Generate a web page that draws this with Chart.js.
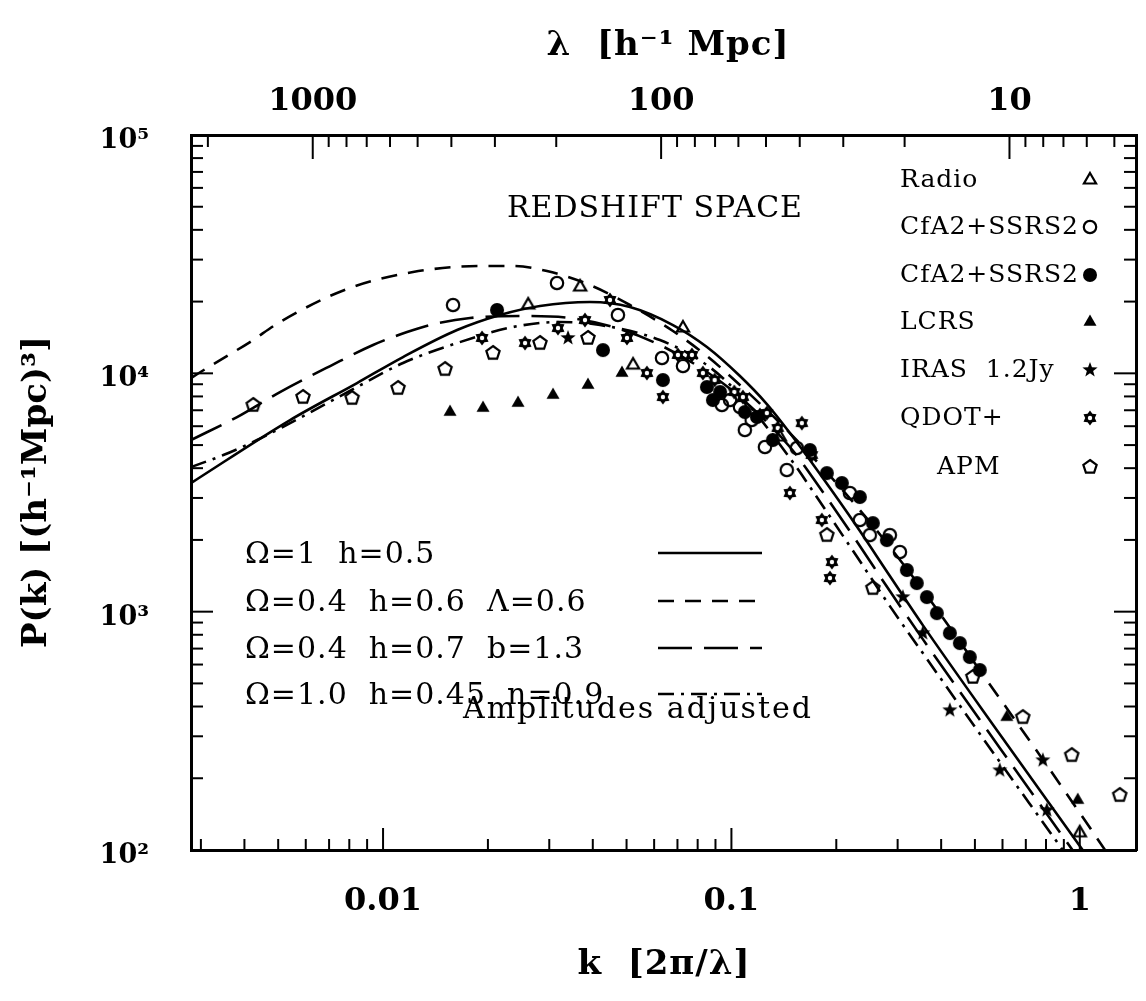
<!DOCTYPE html>
<html>
<head>
<meta charset="utf-8">
<title>P(k) in redshift space</title>
<script src="https://cdn.jsdelivr.net/npm/chart.js@4.4.1/dist/chart.umd.min.js"></script>
<style>
  html, body { margin: 0; padding: 0; background: #fff; }
  canvas { display: block; }
</style>
</head>
<body>
<canvas id="pkChart" width="1146" height="1001"></canvas>
<script>
// axis ranges and labelled ticks
const kMin = 0.00281, kMax = 1.45;
const pMin = 100, pMax = 100000;
const kTicks = [0.01, 0.1, 1];
const lambdaTicks = [1000, 100, 10];
const pTicks = [100, 1000, 10000, 100000];

// model power spectra
const modelNames = ['Ω=1  h=0.5', 'Ω=0.4  h=0.6  Λ=0.6', 'Ω=0.4  h=0.7  b=1.3', 'Ω=1.0  h=0.45  n=0.9'];

const kOmega1 = [0.00281, 0.00541, 0.00842, 0.01141, 0.01631, 0.02167, 0.02821, 0.03926, 0.05113, 0.06795, 0.08506, 0.1058, 0.1264, 0.1472, 0.183, 0.2276, 0.285, 0.3543, 0.5894, 1.0, 1.302];
const pOmega1 = [3465, 6368, 9107, 11706, 15195, 17570, 19160, 19925, 18976, 15947, 12898, 9743, 7432, 5617, 3636, 2309, 1411, 878, 306, 104, 60];

const kLambda = [0.00281, 0.00319, 0.00415, 0.00506, 0.00788, 0.01219, 0.01898, 0.0236, 0.02955, 0.03926, 0.05113, 0.06795, 0.08506, 0.1058, 0.1472, 0.2337, 0.3543, 0.5409, 0.7677, 1.09, 1.302];
const pLambda = [9556, 10730, 13530, 16420, 22590, 26610, 28200, 28200, 26870, 23470, 19350, 15050, 11820, 8930, 5617, 2669, 1232, 516, 250, 119, 81];

const kBias = [0.00281, 0.00381, 0.00506, 0.00705, 0.00936, 0.01172, 0.01364, 0.01777, 0.02472, 0.03441, 0.04571, 0.06234, 0.08506, 0.1058, 0.1472, 0.183, 0.2276, 0.285, 0.3543, 0.5894, 0.9178, 1.141];
const pBias = [5251, 6555, 8346, 10730, 13150, 14910, 15950, 17070, 17400, 17070, 15640, 13150, 10130, 7954, 4907, 3177, 1997, 1220, 767, 268, 108, 69];

const kTilt = [0.00281, 0.00348, 0.00435, 0.00541, 0.00842, 0.01141, 0.01631, 0.0236, 0.0322, 0.04195, 0.06234, 0.08506, 0.1058, 0.1472, 0.183, 0.2276, 0.285, 0.3543, 0.5894, 0.8762, 1.068];
const pTilt = [4045, 4540, 5251, 6185, 8760, 11050, 13400, 15640, 16420, 15950, 13790, 10830, 8110, 4412, 2774, 1728, 1055, 670, 234, 104, 69];

// survey measurements
const surveyNames = ['Radio', 'CfA2+SSRS2', 'CfA2+SSRS2', 'LCRS', 'IRAS  1.2Jy', 'QDOT+', 'APM'];

const kRadio = [0.0261, 0.0368, 0.0522, 0.0726, 0.1377, 1.0];
const pRadio = [19350, 23020, 10830, 15490, 5404, 118];

const kCfaOpen = [0.01588, 0.03157, 0.04723, 0.06318, 0.07259, 0.09391, 0.0991, 0.1058, 0.1093, 0.1143, 0.1248, 0.1442, 0.1541, 0.2188, 0.2337, 0.2496, 0.285, 0.3045];
const pCfaOpen = [19350, 23930, 17570, 11590, 10730, 7362, 7727, 7222, 5781, 6368, 4907, 3929, 4860, 3146, 2423, 2096, 2096, 1779];

const kCfaFilled = [0.02124, 0.04279, 0.06358, 0.08505, 0.0885, 0.0928, 0.1093, 0.1184, 0.1315, 0.168, 0.1879, 0.2075, 0.2337, 0.2547, 0.2794, 0.3189, 0.3405, 0.3639, 0.3888, 0.4236, 0.4525, 0.4834, 0.5164];
const pCfaFilled = [18440, 12520, 9374, 8760, 7727, 8346, 6880, 6555, 5251, 4766, 3815, 3465, 3026, 2353, 1997, 1495, 1318, 1151, 986, 813, 738, 645, 569];

const kLcrs = [0.01557, 0.01936, 0.0244, 0.03075, 0.03875, 0.0485, 0.6172, 0.987];
const pLcrs = [6880, 7152, 7506, 8110, 8930, 10030, 361, 162];

const kIras = [0.03396, 0.3105, 0.3543, 0.4236, 0.5894, 0.7832, 0.8042];
const pIras = [14070, 1151, 813, 386, 216, 238, 147];

const kQdot = [0.01924, 0.02556, 0.03177, 0.03799, 0.04481, 0.05014, 0.05721, 0.06358, 0.07022, 0.07703, 0.08283, 0.0895, 0.1019, 0.1079, 0.1207, 0.1264, 0.1358, 0.1472, 0.1593, 0.1701, 0.1818, 0.1918, 0.1943];
const pQdot = [14070, 13400, 15490, 16740, 20310, 14070, 10030, 7954, 11940, 11940, 10030, 9374, 8346, 7954, 6683, 6814, 5895, 3146, 6185, 4542, 2423, 1384, 1615];

const kApm = [0.00424, 0.00589, 0.00815, 0.01104, 0.01506, 0.02068, 0.02821, 0.03875, 0.1879, 0.2547, 0.4932, 0.686, 0.948, 1.302];
const pApm = [7360, 7954, 7877, 8677, 10420, 12170, 13400, 14070, 2096, 1256, 532, 361, 250, 170];

const pairs = (ks, ps) => ks.map((k, i) => ({ x: k, y: ps[i] }));

// little bitmaps used as point styles
function makeMarker(kind) {
  const s = 20;
  const c = document.createElement('canvas');
  c.width = c.height = s;
  const g = c.getContext('2d');
  g.translate(s / 2, s / 2);
  g.lineWidth = 2.2;
  g.strokeStyle = g.fillStyle = '#000';
  const star = (n, ro, ri, rot) => {
    g.beginPath();
    for (let i = 0; i < 2 * n; i++) {
      const a = (rot + i * 180 / n) * Math.PI / 180;
      const r = i % 2 ? ri : ro;
      g.lineTo(r * Math.cos(a), r * Math.sin(a));
    }
    g.closePath();
  };
  const poly = (n, r, rot) => {
    g.beginPath();
    for (let i = 0; i < n; i++) {
      const a = (rot + i * 360 / n) * Math.PI / 180;
      g.lineTo(r * Math.cos(a), r * Math.sin(a));
    }
    g.closePath();
  };
  if (kind === 'openTriangle') { poly(3, 7, -90); g.stroke(); }
  if (kind === 'filledTriangle') { poly(3, 7.5, -90); g.fill(); }
  if (kind === 'openCircle') { g.beginPath(); g.arc(0, 0, 6.2, 0, 2 * Math.PI); g.stroke(); }
  if (kind === 'filledCircle') { g.beginPath(); g.arc(0, 0, 7, 0, 2 * Math.PI); g.fill(); }
  if (kind === 'star5') { star(5, 8, 3.3, -90); g.fill(); }
  if (kind === 'gear') {
    star(6, 7.5, 4.8, -90); g.fill();
    g.fillStyle = '#fff'; g.beginPath(); g.arc(0, 0, 2.2, 0, 2 * Math.PI); g.fill();
  }
  if (kind === 'pentagon') { poly(5, 7, -90); g.stroke(); }
  return c;
}

const surveyData = [
  [kRadio, pRadio, 'openTriangle'],
  [kCfaOpen, pCfaOpen, 'openCircle'],
  [kCfaFilled, pCfaFilled, 'filledCircle'],
  [kLcrs, pLcrs, 'filledTriangle'],
  [kIras, pIras, 'star5'],
  [kQdot, pQdot, 'gear'],
  [kApm, pApm, 'pentagon']
];
const markers = surveyData.map(d => makeMarker(d[2]));

const modelData = [
  [kOmega1, pOmega1, []],
  [kLambda, pLambda, [16, 11]],
  [kBias, pBias, [34, 12]],
  [kTilt, pTilt, [16, 7, 3, 7]]
];

const surveyDatasets = surveyData.map((d, i) => ({
  label: surveyNames[i],
  data: pairs(d[0], d[1]),
  pointStyle: markers[i],
  pointRadius: 7,
  showLine: false
}));

const modelDatasets = modelData.map((d, i) => ({
  label: modelNames[i],
  data: pairs(d[0], d[1]),
  showLine: true,
  borderColor: '#000',
  borderWidth: 2.6,
  borderDash: d[2],
  pointRadius: 0,
  cubicInterpolationMode: 'monotone'
}));

// inward ticks, axis titles, annotations and both keys
const frame = {
  id: 'frame',
  afterDraw(chart) {
    const { ctx, chartArea: a, scales } = chart;
    ctx.save();
    ctx.strokeStyle = '#000';
    ctx.fillStyle = '#000';
    ctx.lineWidth = 2;
    const seg = (x1, y1, x2, y2) => { ctx.beginPath(); ctx.moveTo(x1, y1); ctx.lineTo(x2, y2); ctx.stroke(); };

    for (let e = -3; e <= 0; e++) {
      for (let m = 1; m <= 9; m++) {
        const v = m * Math.pow(10, e);
        if (v < kMin || v > kMax) continue;
        const x = scales.x.getPixelForValue(v);
        seg(x, a.bottom, x, a.bottom - (m === 1 ? 22 : 11));
      }
    }
    const lamMin = scales.x2.min, lamMax = scales.x2.max;
    for (let e = 0; e <= 3; e++) {
      for (let m = 1; m <= 9; m++) {
        const v = m * Math.pow(10, e);
        if (v < lamMin || v > lamMax) continue;
        const x = scales.x2.getPixelForValue(v);
        seg(x, a.top, x, a.top + (m === 1 ? 24 : 12));
      }
    }
    for (let e = 2; e <= 4; e++) {
      for (let m = 1; m <= 9; m++) {
        const v = m * Math.pow(10, e);
        const y = scales.y.getPixelForValue(v);
        const len = m === 1 ? 22 : 12;
        seg(a.left, y, a.left + len, y);
        seg(a.right, y, a.right - len, y);
      }
    }

    const write = (str, x, y, font, align, spacing) => {
      ctx.font = font;
      ctx.letterSpacing = spacing || '0px';
      ctx.textAlign = align || 'left';
      ctx.textBaseline = 'middle';
      ctx.fillText(str, x, y);
    };
    const titleFont = 'bold 34px "DejaVu Serif"';
    write('λ  [h⁻¹ Mpc]', 668, 46, titleFont, 'center', '1px');
    write('k  [2π/λ]', 664, 965, titleFont, 'center', '1px');
    ctx.save();
    ctx.translate(37, 492);
    ctx.rotate(-Math.PI / 2);
    write('P(k) [(h⁻¹Mpc)³]', 0, 0, titleFont, 'center', '0px');
    ctx.restore();

    const bodyFont = '30px "DejaVu Serif"';
    write('REDSHIFT SPACE', 655, 209, bodyFont, 'center', '1px');

    // model key
    const rowsY = [555, 603, 650, 696];
    modelNames.forEach((name, i) => {
      write(name, 245, rowsY[i], bodyFont, 'left', '1px');
      ctx.setLineDash(modelData[i][2]);
      ctx.lineWidth = 2.6;
      seg(658, rowsY[i] - 2, 762, rowsY[i] - 2);
      ctx.setLineDash([]);
    });
    write('Amplitudes adjusted', 463, 710, bodyFont, 'left', '2px');

    // survey key
    const keyY = [180, 227, 275, 322, 370, 418, 467];
    surveyNames.forEach((name, i) => {
      write(name, i === 6 ? 937 : 900, keyY[i], '25px "DejaVu Serif"', 'left', '1px');
      const mk = markers[i];
      ctx.drawImage(mk, 1090 - mk.width / 2, keyY[i] - mk.height / 2);
    });
    ctx.restore();
  }
};

const tickFont = { family: 'DejaVu Serif', weight: 'bold', size: 32 };
const sup = { 2: '²', 3: '³', 4: '⁴', 5: '⁵' };

new Chart(document.getElementById('pkChart'), {
  type: 'scatter',
  data: { datasets: [...surveyDatasets, ...modelDatasets] },
  options: {
    responsive: false,
    animation: false,
    devicePixelRatio: 1,
    layout: { padding: { left: 0, right: 10, top: 0, bottom: 0 } },
    plugins: { legend: { display: false }, tooltip: { enabled: false } },
    scales: {
      x: {
        type: 'logarithmic', position: 'bottom', min: kMin, max: kMax,
        afterFit: s => { s.height = 151; },
        afterBuildTicks: s => { s.ticks = kTicks.map(v => ({ value: v })); },
        grid: { display: false, drawTicks: false },
        border: { display: true, color: '#000', width: 3 },
        ticks: { autoSkip: false, maxRotation: 0, padding: 32, color: '#000', font: tickFont, callback: v => String(v) }
      },
      x2: {
        type: 'logarithmic', position: 'top', reverse: true,
        min: 2 * Math.PI / kMax, max: 2 * Math.PI / kMin,
        afterFit: s => { s.height = 135; },
        afterBuildTicks: s => { s.ticks = lambdaTicks.map(v => ({ value: v })); },
        grid: { display: false, drawTicks: false },
        border: { display: true, color: '#000', width: 3 },
        ticks: { autoSkip: false, maxRotation: 0, padding: 14, color: '#000', font: tickFont, callback: v => String(v) }
      },
      y: {
        type: 'logarithmic', position: 'left', min: pMin, max: pMax,
        afterFit: s => { s.width = 191; },
        afterBuildTicks: s => { s.ticks = pTicks.map(v => ({ value: v })); },
        grid: { display: false, drawTicks: false },
        border: { display: true, color: '#000', width: 3 },
        ticks: {
          autoSkip: false, padding: 42, labelOffset: 6, color: '#000',
          font: { family: 'DejaVu Serif', weight: 'bold', size: 27 },
          callback: v => '10' + sup[Math.round(Math.log10(v))]
        }
      },
      y2: {
        type: 'logarithmic', position: 'right', min: pMin, max: pMax,
        afterFit: s => { s.width = 0; },
        grid: { display: false, drawTicks: false },
        border: { display: true, color: '#000', width: 3 },
        ticks: { display: false }
      }
    }
  },
  plugins: [frame]
});
</script>
</body>
</html>
